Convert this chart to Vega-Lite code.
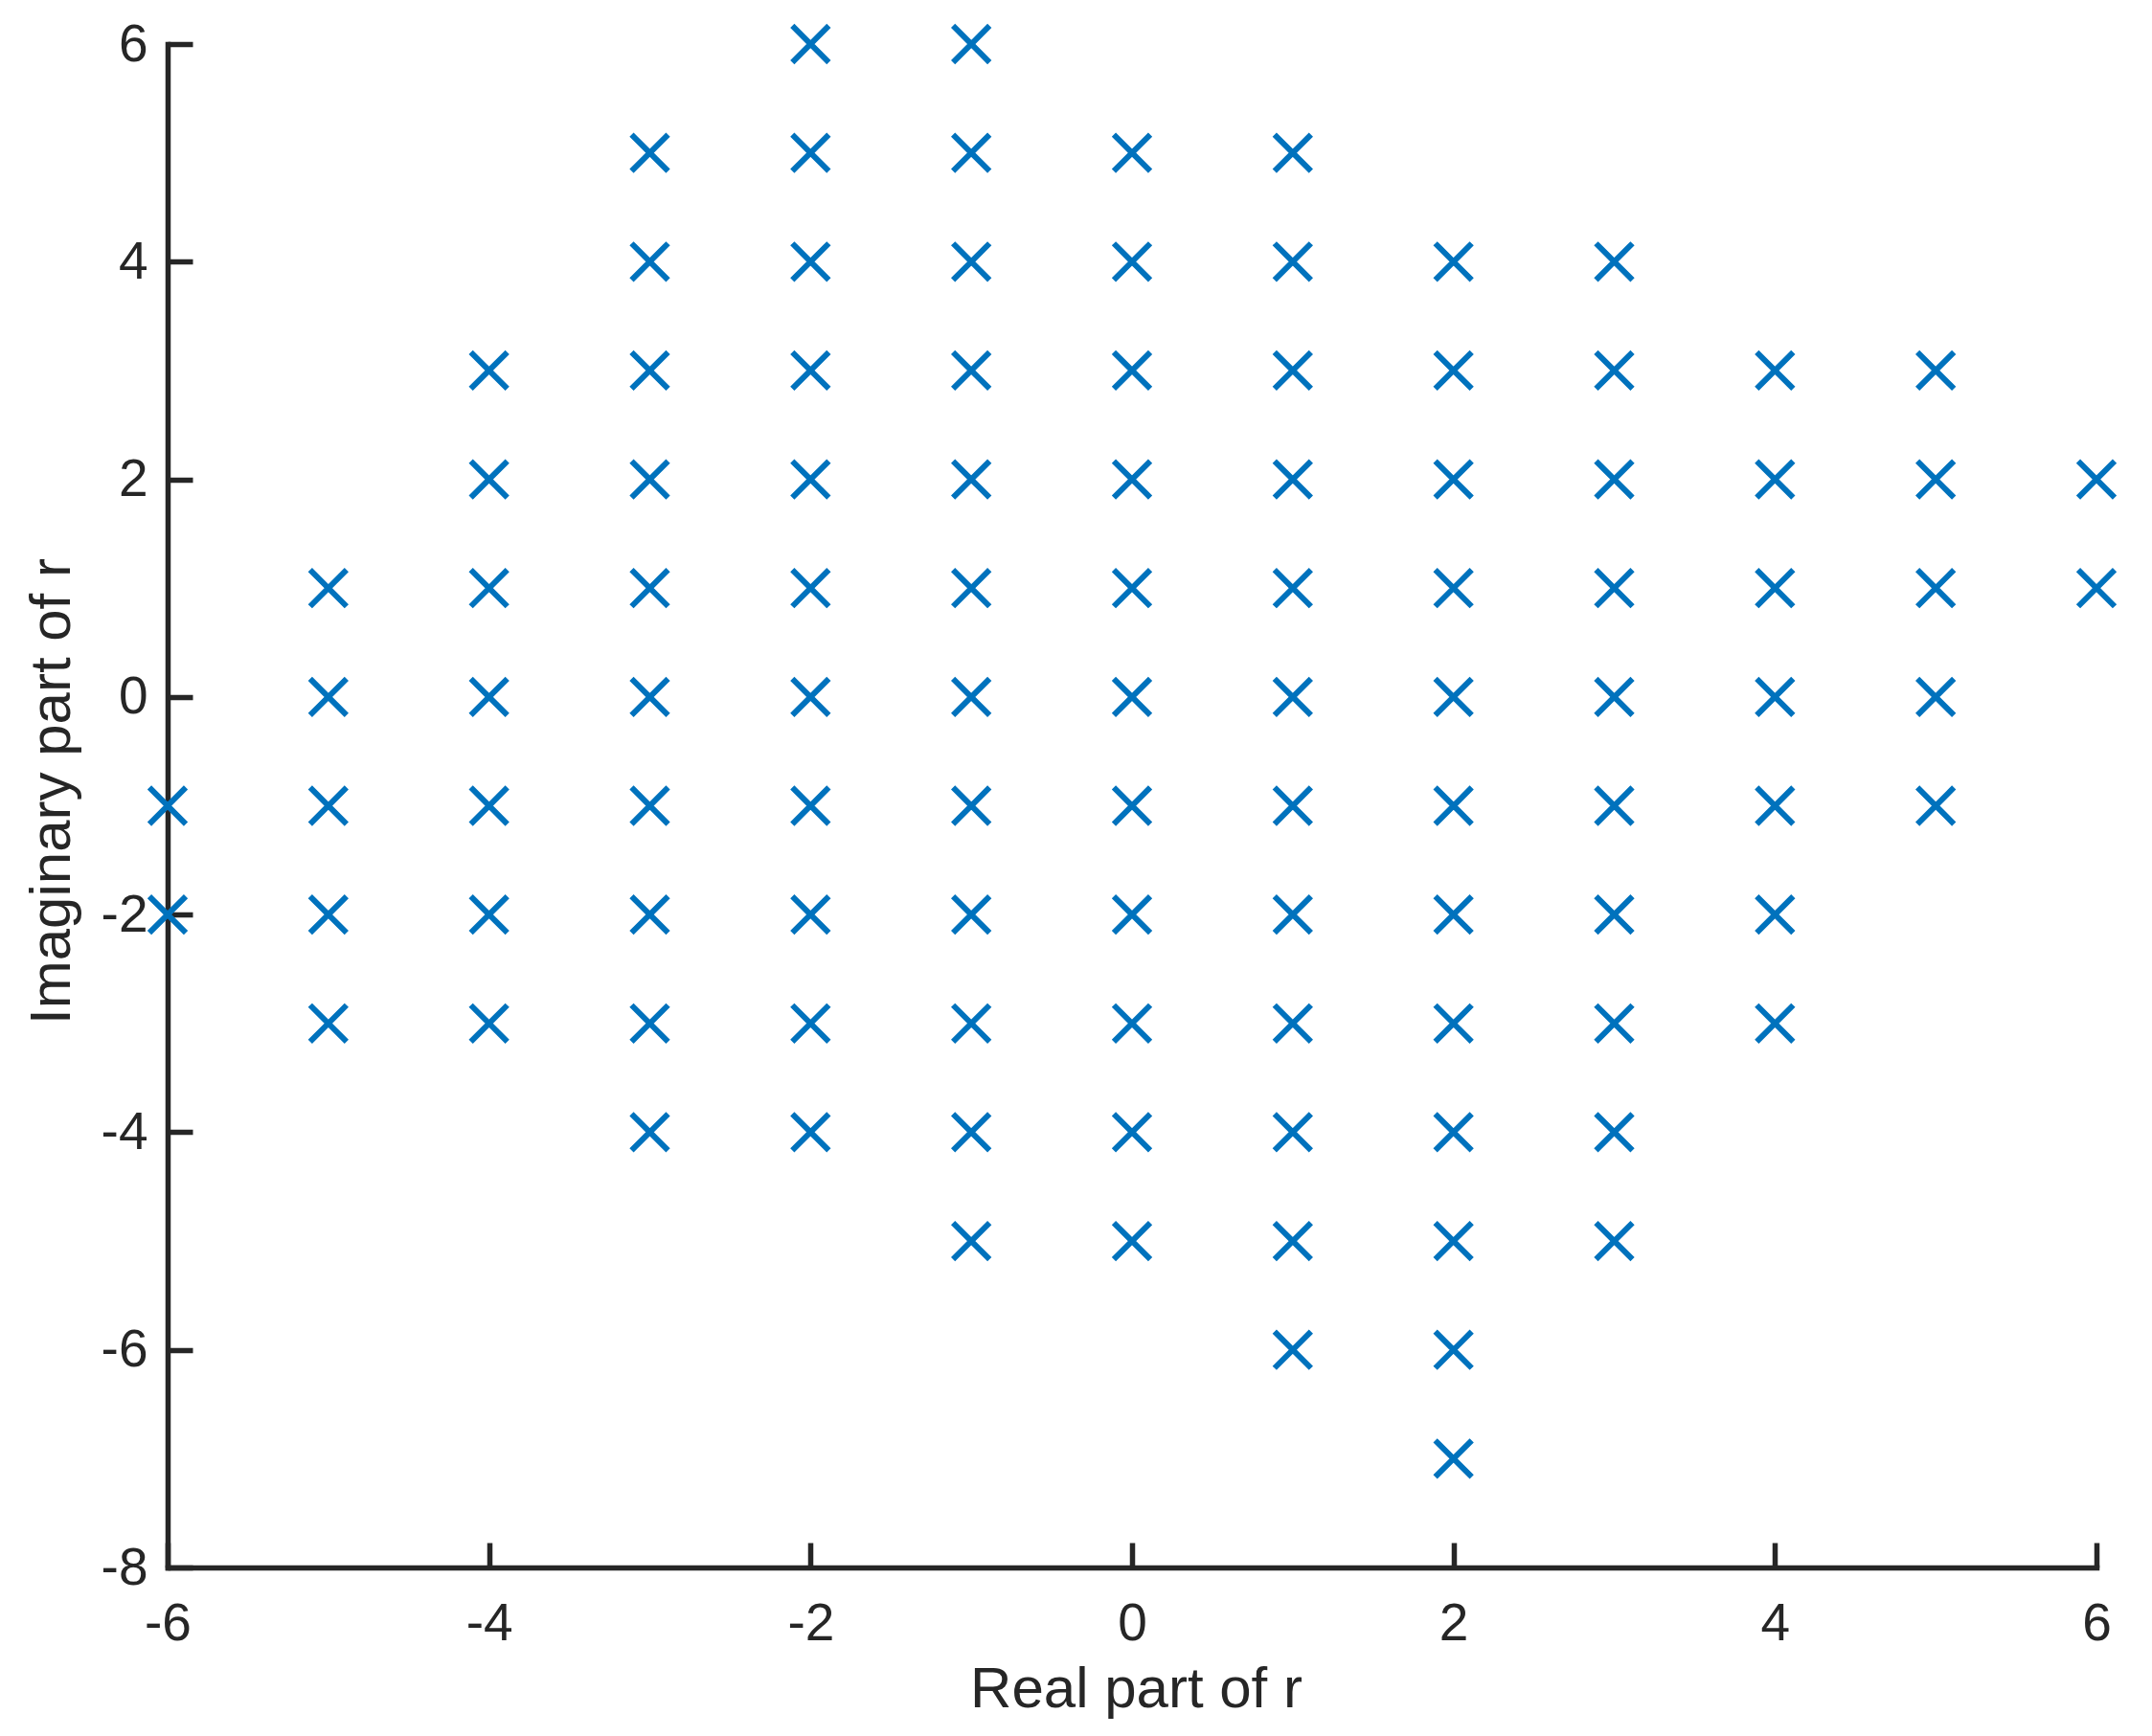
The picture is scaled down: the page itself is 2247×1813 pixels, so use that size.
{
  "$schema": "https://vega.github.io/schema/vega-lite/v6.json",
  "width": 2014,
  "height": 1591,
  "autosize": {"type": "none"},
  "padding": {"left": 175, "top": 46, "right": 58, "bottom": 176},
  "background": "white",
  "config": {"view": {"stroke": null}},
  "data": {"values": [
    {"re": -6, "im": -1}, {"re": -6, "im": -2},
    {"re": -5, "im": 1}, {"re": -5, "im": 0}, {"re": -5, "im": -1}, {"re": -5, "im": -2}, {"re": -5, "im": -3},
    {"re": -4, "im": 3}, {"re": -4, "im": 2}, {"re": -4, "im": 1}, {"re": -4, "im": 0}, {"re": -4, "im": -1}, {"re": -4, "im": -2}, {"re": -4, "im": -3},
    {"re": -3, "im": 5}, {"re": -3, "im": 4}, {"re": -3, "im": 3}, {"re": -3, "im": 2}, {"re": -3, "im": 1}, {"re": -3, "im": 0}, {"re": -3, "im": -1}, {"re": -3, "im": -2}, {"re": -3, "im": -3}, {"re": -3, "im": -4},
    {"re": -2, "im": 6}, {"re": -2, "im": 5}, {"re": -2, "im": 4}, {"re": -2, "im": 3}, {"re": -2, "im": 2}, {"re": -2, "im": 1}, {"re": -2, "im": 0}, {"re": -2, "im": -1}, {"re": -2, "im": -2}, {"re": -2, "im": -3}, {"re": -2, "im": -4},
    {"re": -1, "im": 6}, {"re": -1, "im": 5}, {"re": -1, "im": 4}, {"re": -1, "im": 3}, {"re": -1, "im": 2}, {"re": -1, "im": 1}, {"re": -1, "im": 0}, {"re": -1, "im": -1}, {"re": -1, "im": -2}, {"re": -1, "im": -3}, {"re": -1, "im": -4}, {"re": -1, "im": -5},
    {"re": 0, "im": 5}, {"re": 0, "im": 4}, {"re": 0, "im": 3}, {"re": 0, "im": 2}, {"re": 0, "im": 1}, {"re": 0, "im": 0}, {"re": 0, "im": -1}, {"re": 0, "im": -2}, {"re": 0, "im": -3}, {"re": 0, "im": -4}, {"re": 0, "im": -5},
    {"re": 1, "im": 5}, {"re": 1, "im": 4}, {"re": 1, "im": 3}, {"re": 1, "im": 2}, {"re": 1, "im": 1}, {"re": 1, "im": 0}, {"re": 1, "im": -1}, {"re": 1, "im": -2}, {"re": 1, "im": -3}, {"re": 1, "im": -4}, {"re": 1, "im": -5}, {"re": 1, "im": -6},
    {"re": 2, "im": 4}, {"re": 2, "im": 3}, {"re": 2, "im": 2}, {"re": 2, "im": 1}, {"re": 2, "im": 0}, {"re": 2, "im": -1}, {"re": 2, "im": -2}, {"re": 2, "im": -3}, {"re": 2, "im": -4}, {"re": 2, "im": -5}, {"re": 2, "im": -6}, {"re": 2, "im": -7},
    {"re": 3, "im": 4}, {"re": 3, "im": 3}, {"re": 3, "im": 2}, {"re": 3, "im": 1}, {"re": 3, "im": 0}, {"re": 3, "im": -1}, {"re": 3, "im": -2}, {"re": 3, "im": -3}, {"re": 3, "im": -4}, {"re": 3, "im": -5},
    {"re": 4, "im": 3}, {"re": 4, "im": 2}, {"re": 4, "im": 1}, {"re": 4, "im": 0}, {"re": 4, "im": -1}, {"re": 4, "im": -2}, {"re": 4, "im": -3},
    {"re": 5, "im": 3}, {"re": 5, "im": 2}, {"re": 5, "im": 1}, {"re": 5, "im": 0}, {"re": 5, "im": -1},
    {"re": 6, "im": 2}, {"re": 6, "im": 1}
  ]},
  "mark": {
    "type": "point",
    "shape": "M-1,-1L1,1M-1,1L1,-1",
    "filled": false,
    "size": 1450,
    "strokeWidth": 6,
    "color": "#0072BD",
    "opacity": 1,
    "clip": false
  },
  "encoding": {
    "x": {
      "field": "re", "type": "quantitative",
      "scale": {"domain": [-6, 6], "nice": false, "zero": false},
      "axis": {
        "title": "Real part of r",
        "values": [-6, -4, -2, 0, 2, 4, 6],
        "labelExpr": "'' + datum.value",
        "grid": false, "zindex": 0,
        "domainColor": "#262626", "domainWidth": 5.5, "domainCap": "square",
        "tickColor": "#262626", "tickWidth": 5.5, "tickSize": -26,
        "labelFont": "Liberation Sans", "labelFontSize": 55, "labelColor": "#262626", "labelPadding": 58,
        "labelFlush": false, "labelOverlap": false,
        "titleFont": "Liberation Sans", "titleFontSize": 60, "titleFontWeight": "normal", "titleColor": "#262626", "titlePadding": 12,
        "titleX": 1011
      }
    },
    "y": {
      "field": "im", "type": "quantitative",
      "scale": {"domain": [-8, 6], "nice": false, "zero": false},
      "axis": {
        "title": "Imaginary part of r",
        "values": [-8, -6, -4, -2, 0, 2, 4, 6],
        "labelExpr": "'' + datum.value",
        "grid": false, "zindex": 0,
        "domainColor": "#262626", "domainWidth": 5.5, "domainCap": "square",
        "tickColor": "#262626", "tickWidth": 5.5, "tickSize": -26,
        "labelFont": "Liberation Sans", "labelFontSize": 55, "labelColor": "#262626", "labelPadding": 47,
        "labelFlush": false, "labelOverlap": false,
        "titleFont": "Liberation Sans", "titleFontSize": 60, "titleFontWeight": "normal", "titleColor": "#262626", "titlePadding": 20,
        "titleY": 780
      }
    }
  }
}
